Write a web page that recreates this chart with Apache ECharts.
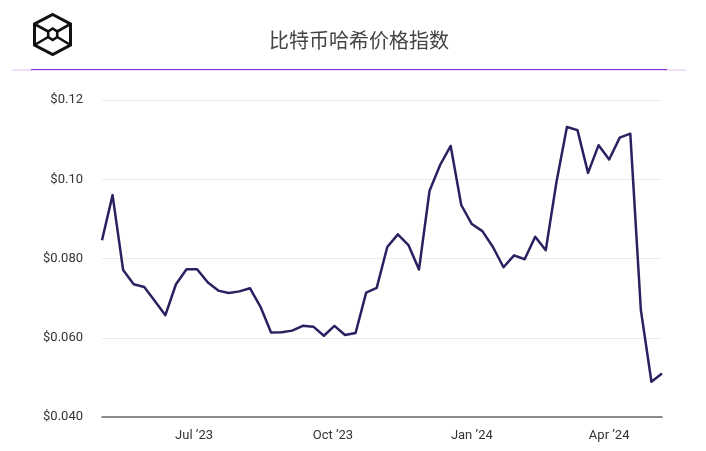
<!DOCTYPE html>
<html>
<head>
<meta charset="utf-8">
<script src="https://cdn.jsdelivr.net/npm/echarts@6/dist/echarts.min.js"></script>
<style>
html,body{margin:0;padding:0;background:#fff;}
#chart{width:706px;height:451px;}
</style>
</head>
<body>
<div id="chart"></div>
<script>
const titleText = '比特币哈希价格指数';

const weekDates = [
  '2023-05-01','2023-05-08','2023-05-15','2023-05-22','2023-05-29',
  '2023-06-05','2023-06-12','2023-06-19','2023-06-26',
  '2023-07-03','2023-07-10','2023-07-17','2023-07-24','2023-07-31',
  '2023-08-07','2023-08-14','2023-08-21','2023-08-28',
  '2023-09-04','2023-09-11','2023-09-18','2023-09-25',
  '2023-10-02','2023-10-09','2023-10-16','2023-10-23','2023-10-30',
  '2023-11-06','2023-11-13','2023-11-20','2023-11-27',
  '2023-12-04','2023-12-11','2023-12-18','2023-12-25',
  '2024-01-01','2024-01-08','2024-01-15','2024-01-22','2024-01-29',
  '2024-02-05','2024-02-12','2024-02-19','2024-02-26',
  '2024-03-04','2024-03-11','2024-03-18','2024-03-25',
  '2024-04-01','2024-04-08','2024-04-15','2024-04-22','2024-04-29',
  '2024-05-06'
];

const hashPrice = [
  0.0846, 0.0960, 0.0771, 0.0735, 0.0728,
  0.0693, 0.0657, 0.0735, 0.0773,
  0.0773, 0.0740, 0.0719, 0.0713, 0.0717,
  0.0725, 0.0678, 0.0613, 0.0614,
  0.0618, 0.0630, 0.0628, 0.0605,
  0.0630, 0.0607, 0.0612, 0.0714, 0.0726,
  0.0829, 0.0861, 0.0834, 0.0772,
  0.0971, 0.1036, 0.1084, 0.0935,
  0.0887, 0.0869, 0.0829, 0.0778, 0.0808,
  0.0798, 0.0855, 0.0821, 0.0991,
  0.1132, 0.1124, 0.1016, 0.1086,
  0.1050, 0.1105, 0.1115, 0.0670, 0.0489,
  0.0510
];

const xTickDates = ['2023-07-01','2023-10-01','2024-01-01','2024-04-01'];
const xTickLabels = ['Jul ’23','Oct ’23','Jan ’24','Apr ’24'];

const yTickValues = [0.04, 0.06, 0.08, 0.10, 0.12];
const yTickLabels = ['$0.040','$0.060','$0.080','$0.10','$0.12'];

const P = s => { const [y, m, d] = s.split('-').map(Number); return Date.UTC(y, m - 1, d); };
const xTickVals = xTickDates.map(P);

const chart = echarts.init(document.getElementById('chart'), null, {renderer:'canvas'});

chart.setOption({
  animation: false,
  backgroundColor: '#ffffff',
  textStyle: { fontFamily: 'Roboto, "Noto Sans", sans-serif' },
  title: {
    text: titleText,
    left: 354,
    textAlign: 'center',
    top: 25,
    textStyle: {
      fontFamily: '"Noto Sans CJK SC", sans-serif',
      fontSize: 20,
      fontWeight: 'normal',
      color: '#444'
    }
  },
  graphic: [
    { type: 'rect', shape: { x: 12, y: 69, width: 674, height: 2 }, style: { fill: '#efe0fa' }, silent: true },
    { type: 'rect', shape: { x: 31, y: 69, width: 636, height: 1 }, style: { fill: '#8f2bd6' }, silent: true },
    { type: 'polygon', shape: { points: [[52.7,14.5],[70.5,24],[70.5,45],[52.7,54.5],[34.5,45],[34.5,24]] }, style: { fill: 'none', stroke: '#111', lineWidth: 3 }, silent: true },
    { type: 'polygon', shape: { points: [[52.7,28.5],[57.2,31.5],[57.2,37],[52.7,40],[48.2,37],[48.2,31.5]] }, style: { fill: 'none', stroke: '#111', lineWidth: 2.6 }, silent: true },
    { type: 'polyline', shape: { points: [[34.5,24],[48.2,31.5]] }, style: { stroke: '#111', lineWidth: 2.6 }, silent: true },
    { type: 'polyline', shape: { points: [[70.5,24],[57.2,31.5]] }, style: { stroke: '#111', lineWidth: 2.6 }, silent: true },
    { type: 'polyline', shape: { points: [[34.5,45],[48.2,37]] }, style: { stroke: '#111', lineWidth: 2.6 }, silent: true },
    { type: 'polyline', shape: { points: [[70.5,45],[57.2,37]] }, style: { stroke: '#111', lineWidth: 2.6 }, silent: true }
  ],
  grid: { left: 102, right: 44, top: 100, bottom: 34, containLabel: false },
  xAxis: {
    type: 'value',
    min: P(weekDates[0]),
    max: P(weekDates[weekDates.length - 1]),
    axisLine: { show: true, lineStyle: { color: '#666', width: 1.5 } },
    axisTick: { show: false },
    splitLine: { show: false },
    axisLabel: {
      customValues: xTickVals,
      formatter: v => {
        const i = xTickVals.findIndex(t => Math.abs(t - v) < 1000);
        return i >= 0 ? xTickLabels[i] : '';
      },
      color: '#333',
      fontSize: 13,
      margin: 12
    }
  },
  yAxis: {
    type: 'value',
    min: 0.04,
    max: 0.12,
    interval: 0.02,
    axisLine: { show: false },
    axisTick: { show: false },
    splitLine: { show: true, lineStyle: { color: '#ececec', width: 1 } },
    axisLabel: {
      color: '#333',
      fontSize: 13,
      margin: 19,
      formatter: v => {
        const i = yTickValues.findIndex(t => Math.abs(t - v) < 1e-9);
        return i >= 0 ? yTickLabels[i] : '';
      }
    }
  },
  series: [{
    type: 'line',
    data: weekDates.map((d, i) => [P(d), hashPrice[i]]),
    showSymbol: false,
    symbol: 'none',
    lineStyle: { color: '#2a2161', width: 2.5, join: 'round' },
    clip: true
  }]
});
</script>
</body>
</html>
